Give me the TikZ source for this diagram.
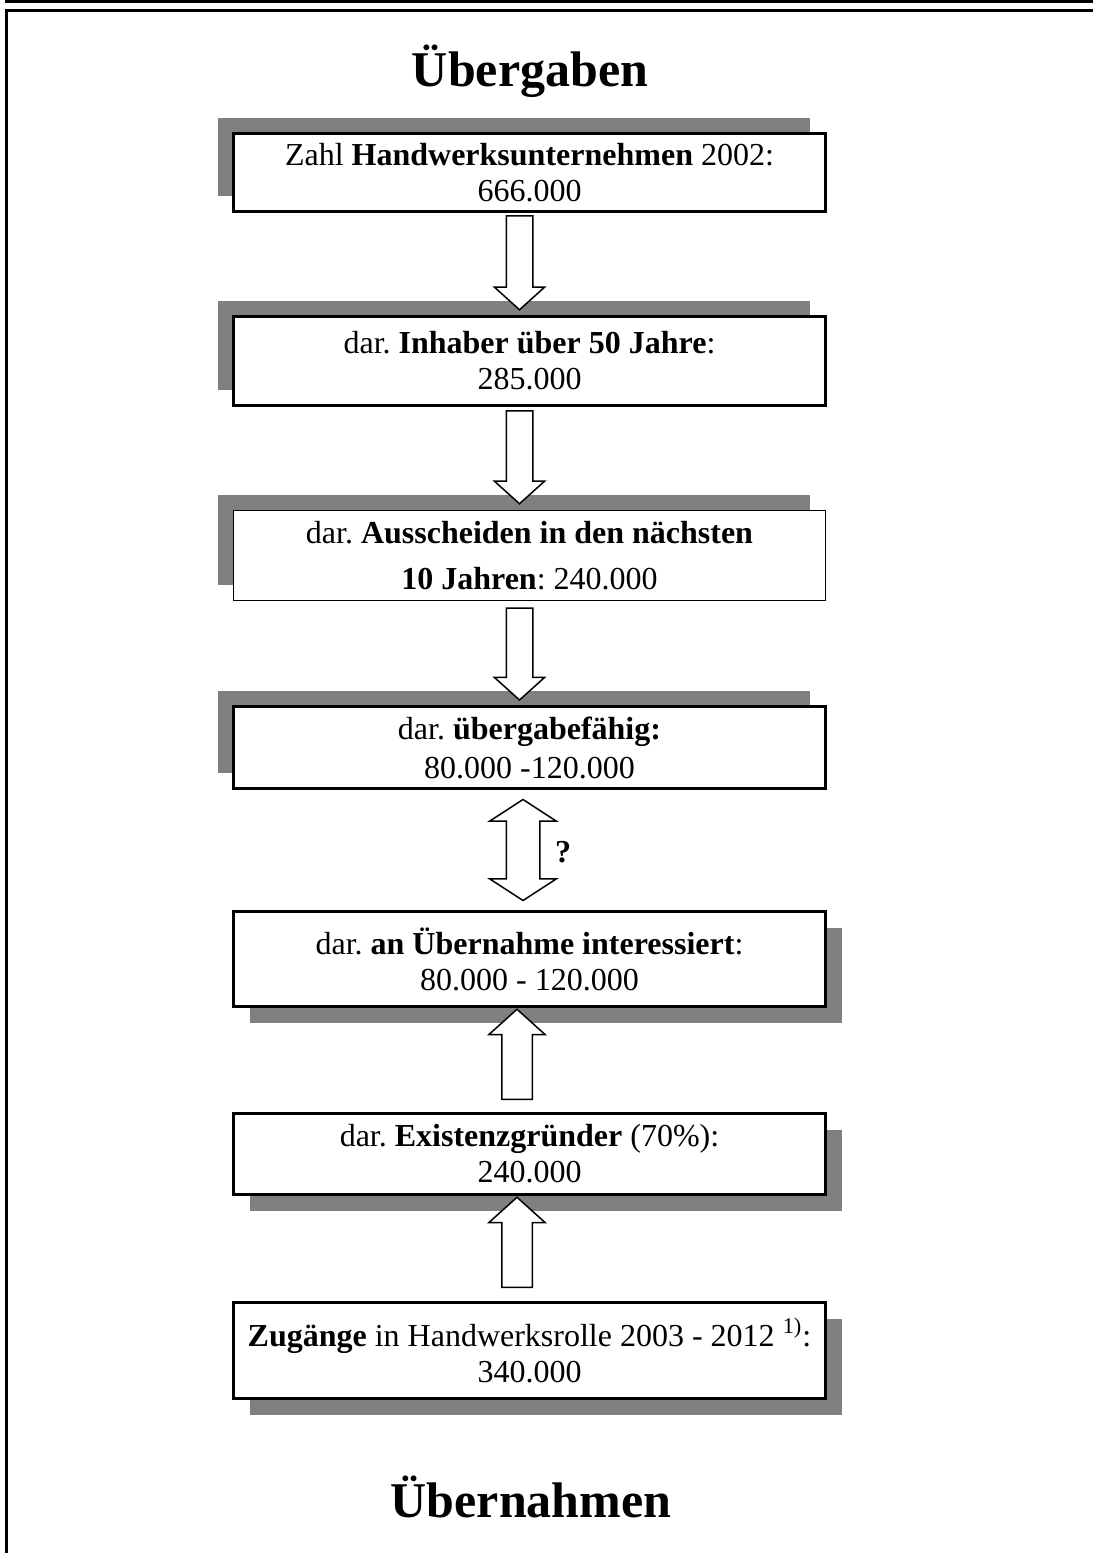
\documentclass[tikz,border=0pt]{standalone}
\usepackage{fontspec}
\setmainfont{Liberation Serif}
\usetikzlibrary{calc,shadows,shapes.arrows}
\frenchspacing
\definecolor{schattengrau}{RGB}{128,128,128}
\tikzstyle{stufe}=[draw, fill=white, line width=1.5pt, minimum width=296pt, align=center, font=\fontsize{16}{18}\selectfont]
\tikzstyle{schattenoben}=[drop shadow={shadow xshift=-8pt, shadow yshift=8pt, fill=schattengrau, opacity=1}]
\tikzstyle{schattenunten}=[drop shadow={shadow xshift=8pt, shadow yshift=-8pt, fill=schattengrau, opacity=1}]
\tikzstyle{pfeilab}=[single arrow, draw, fill=white, line width=0.75pt, rotate=-90, anchor=tail, inner xsep=0pt, inner ysep=6.25pt, minimum width=0pt, single arrow head extend=6pt, single arrow tip angle=96]
\tikzstyle{pfeilauf}=[single arrow, draw, fill=white, line width=0.75pt, rotate=90, anchor=tail, inner xsep=0pt, inner ysep=7.25pt, minimum width=0pt, single arrow head extend=6.5pt, single arrow tip angle=96]
\tikzstyle{titel}=[font=\fontsize{25}{30}\selectfont\bfseries]

\begin{document}
\begin{tikzpicture}[x=0.5pt, y=-0.5pt]
    \useasboundingbox (0,0) rectangle (1093,1553);

    % Rahmen
    \draw[line width=1.5pt] (5,1.5) -- (1093,1.5);
    \draw[line width=1.5pt] (5,10.5) -- (1093,10.5);
    \draw[line width=1.5pt] (6.5,9) -- (6.5,1553);

    % Titel
    \node[titel] (uebergaben) at (530,71) {Übergaben};
    \node[titel] (uebernahmen) at (531,1497) {Übernahmen};

    % Uebergabeseite
    \node[stufe, schattenoben, minimum height=39pt] (zahl) at (529.5,172.5) {Zahl \textbf{Handwerksunternehmen} 2002:\\666.000};
    \node[stufe, schattenoben, minimum height=44.5pt] (inhaber) at (529.5,361) {dar. \textbf{Inhaber über 50 Jahre}:\\285.000};
    \node[stufe, schattenoben, line width=0.75pt, minimum height=45pt] (ausscheiden) at (529.5,555.5) {dar. \textbf{Ausscheiden in den nächsten}\\[5pt]\textbf{10 Jahren}: 240.000};
    \node[stufe, schattenoben, minimum height=41pt] (faehig) at (529.5,747.5) {dar. \textbf{übergabefähig:}\\[1.5pt]80.000 -120.000};

    % Uebernahmeseite
    \node[stufe, schattenunten, minimum height=47.5pt] (interessiert) at (529.5,959) {dar. \textbf{an Übernahme interessiert}:\\80.000 - 120.000};
    \node[stufe, schattenunten, minimum height=40.5pt] (gruender) at (529.5,1154) {dar. \textbf{Existenzgründer} (70\%):\\240.000};
    \node[stufe, schattenunten, minimum height=48pt] (zugaenge) at (529.5,1350.5) {\textbf{Zugänge} in Handwerksrolle 2003 - 2012 \textsuperscript{1)}:\\340.000};

    % Pfeile
    \node[pfeilab, minimum height=47pt] (p1) at ($(zahl.south)+(-10,2)$) {};
    \node[pfeilab, minimum height=46.5pt] (p2) at ($(inhaber.south)+(-10,3)$) {};
    \node[pfeilab, minimum height=46pt] (p3) at ($(ausscheiden.south)+(-10,6)$) {};
    \node[double arrow, draw, fill=white, line width=0.75pt, rotate=90, inner xsep=0pt, inner ysep=8pt, minimum width=0pt, double arrow head extend=8.25pt, double arrow tip angle=114, minimum height=50.5pt] (p4) at ($(faehig.south)!0.5!(interessiert.north)+(-6.5,0)$) {};
    \node[font=\fontsize{16}{18}\selectfont\bfseries] (frage) at (563,852) {?};
    \node[pfeilauf, minimum height=45pt] (p5) at ($(gruender.north)+(-12.5,-12)$) {};
    \node[pfeilauf, minimum height=45pt] (p6) at ($(zugaenge.north)+(-12.5,-13)$) {};

\end{tikzpicture}
\end{document}
